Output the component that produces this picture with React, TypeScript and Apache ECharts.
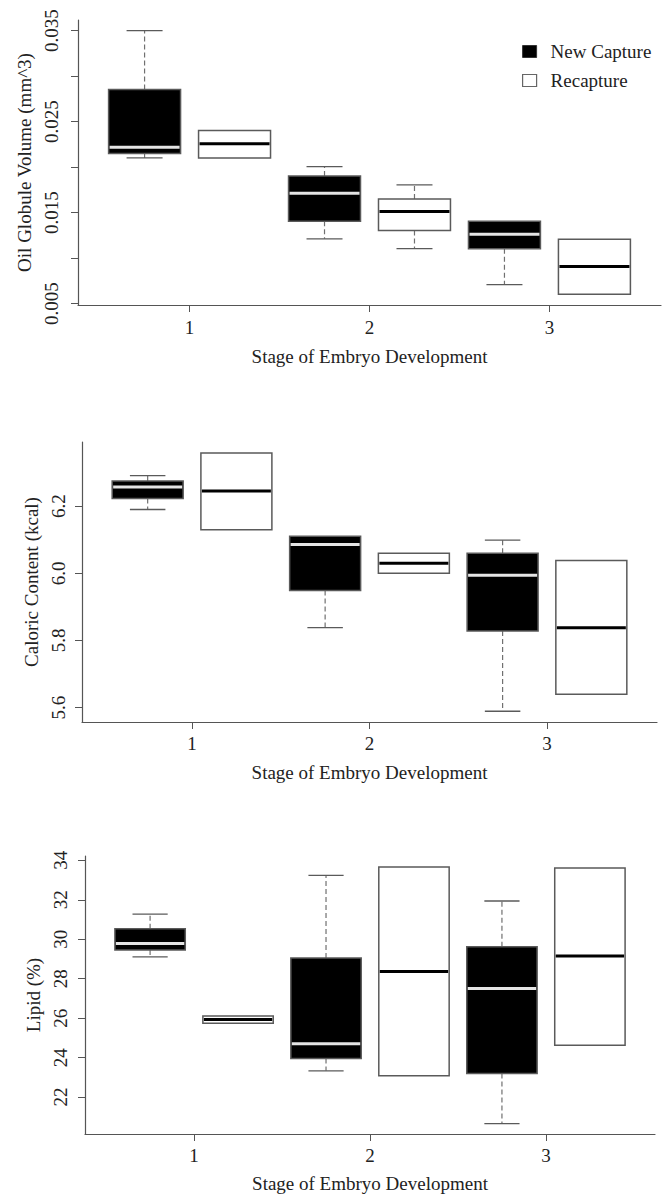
import React, { useEffect, useRef } from "react";
import * as echarts from "echarts";

const stageLabels = ["1", "2", "3"];
const stagePositions = [1.5, 3.5, 5.5];
const seriesNames = ["New Capture", "Recapture"];

// each row: [min, q1, median, q3, max] for stage 1, 2, 3
const oilNew = [
  [0.0210, 0.02148, 0.02218, 0.02852, 0.035],
  [0.01211, 0.01405, 0.01712, 0.01903, 0.02005],
  [0.00709, 0.01101, 0.01262, 0.01405, 0.01405],
];
const oilRe = [
  [0.0210, 0.0210, 0.02255, 0.02401, 0.02401],
  [0.01104, 0.01302, 0.01511, 0.0165, 0.01804],
  [0.00603, 0.00603, 0.00907, 0.01207, 0.01207],
];
const calNew = [
  [6.19, 6.223, 6.257, 6.275, 6.291],
  [5.838, 5.949, 6.086, 6.11, 6.11],
  [5.589, 5.828, 5.994, 6.06, 6.099],
];
const calRe = [
  [6.13, 6.13, 6.245, 6.358, 6.358],
  [6.0, 6.0, 6.03, 6.06, 6.06],
  [5.64, 5.64, 5.838, 6.038, 6.038],
];
const lipNew = [
  [29.11, 29.45, 29.79, 30.53, 31.27],
  [23.33, 23.96, 24.7, 29.05, 33.24],
  [20.66, 23.2, 27.51, 29.62, 31.94],
];
const lipRe = [
  [25.74, 25.74, 25.93, 26.11, 26.11],
  [23.08, 23.08, 28.37, 33.66, 33.66],
  [24.63, 24.63, 29.15, 33.61, 33.61],
];

const oilTicks = [0.005, 0.01, 0.015, 0.02, 0.025, 0.03, 0.035];
const oilTickLabels = [0.005, 0.015, 0.025, 0.035];
const calTicks = [5.6, 5.8, 6.0, 6.2];
const lipTicks = [22, 24, 26, 28, 30, 32, 34];

const FONT = "'Liberation Serif', 'Times New Roman', serif";
const FS = 19;
const TEXT = "#222";
const AXIS = "#555";

type Panel = {
  grid: { left: number; top: number; width: number; height: number };
  yMin: number;
  yMax: number;
  ticks: number[];
  labels: number[];
  decimals: number;
  yName: string;
  yNameGap: number;
  yLabelMargin: number;
  xNameGap: number;
  xLabelMargin: number;
  newData: number[][];
  reData: number[][];
};

const panels: Panel[] = [
  {
    grid: { left: 78, top: 20, width: 583, height: 285 },
    yMin: 0.00484, yMax: 0.03616,
    ticks: oilTicks, labels: oilTickLabels, decimals: 3,
    yName: "Oil Globule Volume (mm^3)", yNameGap: 43, yLabelMargin: 17, xNameGap: 42, xLabelMargin: 13,
    newData: oilNew, reData: oilRe,
  },
  {
    grid: { left: 82, top: 442, width: 575, height: 280 },
    yMin: 5.557, yMax: 6.391,
    ticks: calTicks, labels: calTicks, decimals: 1,
    yName: "Caloric Content (kcal)", yNameGap: 41, yLabelMargin: 14, xNameGap: 41, xLabelMargin: 12,
    newData: calNew, reData: calRe,
  },
  {
    grid: { left: 85, top: 856, width: 570, height: 278 },
    yMin: 20.13, yMax: 34.22,
    ticks: lipTicks, labels: lipTicks, decimals: 0,
    yName: "Lipid (%)", yNameGap: 42, yLabelMargin: 15, xNameGap: 40, xLabelMargin: 12,
    newData: lipNew, reData: lipRe,
  },
];

function makeRenderItem(fill: string, medianColor: string) {
  return (_params: any, api: any) => {
    const x = api.value(0);
    const lo = api.value(1);
    const q1 = api.value(2);
    const med = api.value(3);
    const q3 = api.value(4);
    const hi = api.value(5);
    const pLo = api.coord([x, lo]);
    const pQ1 = api.coord([x, q1]);
    const pMed = api.coord([x, med]);
    const pQ3 = api.coord([x, q3]);
    const pHi = api.coord([x, hi]);
    const cx = pMed[0];
    const hw = api.size([0.8, 0])[0] / 2;
    const cw = api.size([0.4, 0])[0] / 2;
    const children: any[] = [];
    const whisker = { stroke: "#707070", lineWidth: 1.2, lineDash: [5, 3] };
    const cap = { stroke: "#5a5a5a", lineWidth: 1.3 };
    if (pHi[1] < pQ3[1] - 1) {
      children.push({ type: "line", shape: { x1: cx, y1: pQ3[1], x2: cx, y2: pHi[1] }, style: whisker });
      children.push({ type: "line", shape: { x1: cx - cw, y1: pHi[1], x2: cx + cw, y2: pHi[1] }, style: cap });
    }
    if (pLo[1] > pQ1[1] + 1) {
      children.push({ type: "line", shape: { x1: cx, y1: pQ1[1], x2: cx, y2: pLo[1] }, style: whisker });
      children.push({ type: "line", shape: { x1: cx - cw, y1: pLo[1], x2: cx + cw, y2: pLo[1] }, style: cap });
    }
    children.push({
      type: "rect",
      shape: { x: cx - hw, y: pQ3[1], width: hw * 2, height: pQ1[1] - pQ3[1] },
      style: { fill, stroke: "#5a5a5a", lineWidth: 1.5 },
    });
    children.push({
      type: "line",
      shape: { x1: cx - hw + 1, y1: pMed[1], x2: cx + hw - 1, y2: pMed[1] },
      style: { stroke: medianColor, lineWidth: 3 },
    });
    return { type: "group", children };
  };
}

function buildOption() {
  const grid: any[] = [];
  const xAxis: any[] = [];
  const yAxis: any[] = [];
  const series: any[] = [];
  panels.forEach((p, i) => {
    grid.push({ ...p.grid });
    xAxis.push({
      type: "value",
      gridIndex: i,
      min: 0.26,
      max: 6.74,
      name: "Stage of Embryo Development",
      nameLocation: "middle",
      nameGap: p.xNameGap,
      nameTextStyle: { fontFamily: FONT, fontSize: FS, color: TEXT },
      axisLine: { show: true, onZero: false, lineStyle: { color: AXIS, width: 1.2 } },
      axisTick: { show: true, length: 7, customValues: stagePositions, lineStyle: { color: AXIS } },
      axisLabel: {
        customValues: stagePositions,
        margin: p.xLabelMargin,
        fontFamily: FONT,
        fontSize: FS,
        color: TEXT,
        formatter: (v: number) => stageLabels[stagePositions.indexOf(v)] ?? "",
      },
      splitLine: { show: false },
    });
    yAxis.push({
      type: "value",
      gridIndex: i,
      min: p.yMin,
      max: p.yMax,
      name: p.yName,
      nameLocation: "middle",
      nameGap: p.yNameGap,
      nameTextStyle: { fontFamily: FONT, fontSize: FS, color: TEXT },
      axisLine: { show: true, onZero: false, lineStyle: { color: AXIS, width: 1.2 } },
      axisTick: { show: true, length: 7, customValues: p.ticks, lineStyle: { color: AXIS } },
      axisLabel: {
        customValues: p.labels,
        rotate: 90,
        margin: p.yLabelMargin,
        fontFamily: FONT,
        fontSize: FS,
        color: TEXT,
        formatter: (v: number) => v.toFixed(p.decimals),
      },
      splitLine: { show: false },
    });
    const groups = [
      { name: seriesNames[0], data: p.newData, offset: 1, fill: "#000", median: "#e4e4e4" },
      { name: seriesNames[1], data: p.reData, offset: 2, fill: "#fff", median: "#000" },
    ];
    groups.forEach((g) => {
      series.push({
        type: "custom",
        name: g.name,
        xAxisIndex: i,
        yAxisIndex: i,
        itemStyle: { color: g.fill },
        encode: { x: 0, y: [1, 2, 3, 4, 5] },
        renderItem: makeRenderItem(g.fill, g.median),
        data: g.data.map((row, s) => [2 * s + g.offset, ...row]),
        clip: false,
      });
    });
  });
  return {
    animation: false,
    backgroundColor: "#fff",
    grid,
    xAxis,
    yAxis,
    series,
    legend: {
      orient: "vertical",
      left: 517,
      top: 37,
      itemWidth: 14,
      itemHeight: 12,
      itemGap: 10,
      selectedMode: false,
      icon: "rect",
      textStyle: { fontFamily: FONT, fontSize: FS, color: TEXT, padding: [0, 0, 0, 9] },
      data: [
        { name: seriesNames[0], itemStyle: { color: "#000", borderColor: "#333", borderWidth: 1 } },
        { name: seriesNames[1], itemStyle: { color: "#fff", borderColor: "#666", borderWidth: 1.2 } },
      ],
    },
  };
}

export default function App() {
  const ref = useRef<HTMLDivElement>(null);
  useEffect(() => {
    document.body.style.margin = "0";
    if (!ref.current) return;
    const chart = echarts.init(ref.current, undefined, { renderer: "svg" });
    chart.setOption(buildOption() as any);
    return () => chart.dispose();
  }, []);
  return <div ref={ref} style={{ width: 665, height: 1195 }} />;
}
